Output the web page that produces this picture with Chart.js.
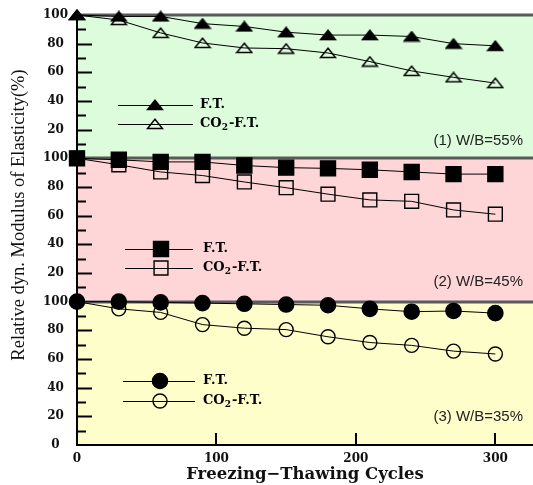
<!DOCTYPE html>
<html>
<head>
<meta charset="utf-8">
<script src="https://cdn.jsdelivr.net/npm/chart.js@4/dist/chart.umd.min.js"></script>
<style>
  html, body { margin: 0; padding: 0; background: #fff; }
  #c { display: block; }
</style>
</head>
<body>
<canvas id="c" width="533" height="485"></canvas>
<script>
// Relative dynamic modulus vs. freeze-thaw cycles, three W/B panels stacked
// on one 0..300 axis (panel 3 = 0..100, panel 2 = 100..200, panel 1 = 200..300).

const cycles = [0, 30, 60, 90, 120, 150, 180, 210, 240, 270, 300];

// (1) W/B = 55%
const ftWb55 = [100, 99, 99, 94, 92, 88, 86, 86, 85, 80, 78.5];
const co2Wb55 = [100, 96.5, 87.5, 80.5, 77, 76.5, 73.5, 67.5, 61, 56.5, 52.5];
// (2) W/B = 45%
const ftWb45 = [100, 99, 97.5, 97.5, 95, 93.5, 93, 92, 90.5, 89, 89];
const co2Wb45 = [100, 95.5, 90.5, 88, 83.5, 79.5, 75, 71, 70, 64, 61];
// (3) W/B = 35%
const ftWb35 = [100, 100, 99.5, 99, 98.5, 98, 97.5, 95, 93, 93.5, 92];
const co2Wb35 = [100, 95, 92.5, 84, 81.5, 80.5, 75.5, 71.5, 69.5, 65.5, 63.5];

const panelNames = ["(1) W/B=55%", "(2) W/B=45%", "(3) W/B=35%"];
const panelOffsets = [200, 100, 0];
const seriesNames = ["F.T.", "CO2-F.T."];

const xTickValues = [0, 100, 200, 300];
const xTickLabels = ["0", "100", "200", "300"];
const yTickValues = [0, 20, 40, 60, 80, 100, 120, 140, 160, 180, 200, 220, 240, 260, 280, 300];
const yTickLabels = ["0", "20", "40", "60", "80", "100", "20", "40", "60", "80", "100", "20", "40", "60", "80", "100"];

const PANEL_BG = ["#dcfcdc", "#ffd6d7", "#fefecb"];
const SEP_COLOR = "#5a5a5a";
const TICK_FONT = { family: "'DejaVu Serif', serif", size: 12, weight: "bold" };

// squat triangles, as in the figure
function triangleMarker(filled) {
  const c = document.createElement("canvas");
  c.width = 18; c.height = 12;
  const g = c.getContext("2d");
  g.beginPath();
  g.moveTo(1.5, 10.5); g.lineTo(9, 1.2); g.lineTo(16.5, 10.5); g.closePath();
  g.lineWidth = 1.4;
  g.strokeStyle = "#000";
  if (filled) { g.fillStyle = "#000"; g.fill(); }
  g.stroke();
  return c;
}
const triFilled = triangleMarker(true);
const triOpen = triangleMarker(false);

const seriesStyles = [
  [{ pointStyle: triFilled }, { pointStyle: triOpen }],
  [{ pointStyle: "rect", radius: 10.6, fill: "#000" }, { pointStyle: "rect", radius: 9.8, fill: "rgba(0,0,0,0)" }],
  [{ pointStyle: "circle", radius: 7.6, fill: "#000" }, { pointStyle: "circle", radius: 7, fill: "rgba(0,0,0,0)" }],
];
const panelSeries = [[ftWb55, co2Wb55], [ftWb45, co2Wb45], [ftWb35, co2Wb35]];

const datasets = [];
panelSeries.forEach((pair, p) => {
  pair.forEach((vals, s) => {
    const st = seriesStyles[p][s];
    datasets.push({
      label: seriesNames[s] + " " + panelNames[p],
      data: vals.map((v, i) => ({ x: cycles[i], y: v + panelOffsets[p] })),
      borderColor: "#000",
      borderWidth: 1,
      pointStyle: st.pointStyle,
      pointRadius: st.radius || 8,
      pointHoverRadius: st.radius || 8,
      pointBackgroundColor: st.fill || "#000",
      pointBorderColor: "#000",
      pointBorderWidth: 1.4,
      tension: 0,
      clip: false,
    });
  });
});

// in-panel legend layout (pixels)
const legendRows = [
  { y: [105, 124], x1: 118, x2: 193, mx: 155, tx: 200 },
  { y: [249, 268], x1: 125, x2: 193, mx: 161, tx: 203 },
  { y: [381, 401], x1: 123, x2: 195, mx: 160, tx: 203 },
];
const panelLabelPos = [{ x: 523, y: 141 }, { x: 523, y: 282 }, { x: 523, y: 417 }];

function drawMarker(ctx, st, x, y) {
  if (typeof st.pointStyle !== "string") {
    ctx.drawImage(st.pointStyle, x - st.pointStyle.width / 2, y - st.pointStyle.height / 2);
    return;
  }
  ctx.save();
  ctx.fillStyle = st.fill;
  ctx.strokeStyle = "#000";
  ctx.lineWidth = 1.4;
  Chart.helpers.drawPoint(ctx, { pointStyle: st.pointStyle, radius: st.radius, rotation: 0, borderWidth: 1.4 }, x, y);
  ctx.restore();
}

const panelsPlugin = {
  id: "panels",
  beforeDraw(chart) {
    const { ctx, chartArea: a, scales: { y } } = chart;
    ctx.save();
    panelOffsets.forEach((off, p) => {
      const top = y.getPixelForValue(off + 100);
      const bot = y.getPixelForValue(off);
      ctx.fillStyle = PANEL_BG[p];
      ctx.fillRect(a.left, top, a.right - a.left, bot - top);
    });
    ctx.restore();
  },
  beforeDatasetsDraw(chart) {
    const { ctx, chartArea: a, scales: { x, y } } = chart;
    ctx.save();
    // inward tick marks on y (major every 20, minor every 10)
    ctx.strokeStyle = "#000";
    ctx.lineWidth = 2;
    for (let v = 10; v < 300; v += 10) {
      if (v % 100 === 0) continue;
      const py = Math.round(y.getPixelForValue(v)) + 0.5;
      const len = v % 20 === 0 ? 15 : 9;
      ctx.beginPath(); ctx.moveTo(a.left, py); ctx.lineTo(a.left + len, py); ctx.stroke();
    }
    // inward tick marks on x
    xTickValues.slice(1).forEach((v) => {
      const px = Math.round(x.getPixelForValue(v));
      ctx.beginPath(); ctx.moveTo(px, a.bottom); ctx.lineTo(px, a.bottom - 12); ctx.stroke();
    });
    // panel separators and top border
    ctx.strokeStyle = SEP_COLOR;
    ctx.lineWidth = 3;
    [100, 200, 300].forEach((v) => {
      const py = Math.round(y.getPixelForValue(v));
      ctx.beginPath(); ctx.moveTo(a.left, py); ctx.lineTo(a.right, py); ctx.stroke();
    });
    ctx.restore();
  },
  afterDraw(chart) {
    const { ctx } = chart;
    ctx.save();
    // legends
    legendRows.forEach((L, p) => {
      seriesNames.forEach((name, s) => {
        const ly = L.y[s];
        ctx.strokeStyle = "#000";
        ctx.lineWidth = 1;
        ctx.beginPath(); ctx.moveTo(L.x1, ly + 0.5); ctx.lineTo(L.x2, ly + 0.5); ctx.stroke();
        drawMarker(ctx, seriesStyles[p][s], L.mx, ly);
        ctx.fillStyle = "#000";
        ctx.textBaseline = "middle";
        ctx.textAlign = "left";
        ctx.font = "bold 13px 'DejaVu Serif', serif";
        if (name.startsWith("CO2")) {
          ctx.fillText("CO", L.tx, ly);
          let w = ctx.measureText("CO").width;
          ctx.font = "bold 9px 'DejaVu Serif', serif";
          ctx.fillText("2", L.tx + w, ly + 4);
          w += ctx.measureText("2").width + 1;
          ctx.font = "bold 13px 'DejaVu Serif', serif";
          ctx.fillText("-F.T.", L.tx + w, ly);
        } else {
          ctx.fillText(name, L.tx, ly);
        }
      });
    });
    // panel labels
    ctx.font = "15px 'Liberation Sans', Arial, sans-serif";
    ctx.fillStyle = "#222";
    ctx.textAlign = "right";
    ctx.textBaseline = "middle";
    panelNames.forEach((t, p) => ctx.fillText(t, panelLabelPos[p].x, panelLabelPos[p].y));
    // y axis title
    ctx.translate(19, 215);
    ctx.rotate(-Math.PI / 2);
    ctx.font = "18.5px 'Liberation Serif', 'Times New Roman', serif";
    ctx.fillStyle = "#111";
    ctx.textAlign = "center";
    ctx.textBaseline = "middle";
    ctx.fillText("Relative dyn. Modulus of Elasticity(%)", 0, 0);
    ctx.restore();
  },
};

new Chart(document.getElementById("c"), {
  type: "line",
  data: { datasets },
  options: {
    responsive: false,
    animation: false,
    devicePixelRatio: 1,
    layout: { autoPadding: false, padding: { left: 0, right: 0, top: 15, bottom: 0 } },
    plugins: { legend: { display: false }, tooltip: { enabled: false } },
    scales: {
      x: {
        type: "linear",
        min: 0,
        max: 327,
        afterBuildTicks: (s) => { s.ticks = xTickValues.map((v) => ({ value: v })); },
        afterFit: (s) => { s.height = 40; s.paddingRight = 0; s.paddingLeft = 0; },
        grid: { display: false, drawTicks: false },
        border: { display: true, color: "#000", width: 2 },
        ticks: {
          padding: 7,
          color: "#111",
          font: TICK_FONT,
          maxRotation: 0,
          callback: (v) => xTickLabels[xTickValues.indexOf(v)],
        },
        title: {
          display: true,
          text: "Freezing\u2212Thawing Cycles",
          color: "#111",
          font: { family: "'DejaVu Serif', serif", size: 16.5, weight: "bold" },
          padding: { top: 0, bottom: 0 },
        },
      },
      y: {
        type: "linear",
        min: 0,
        max: 300,
        afterBuildTicks: (s) => { s.ticks = yTickValues.map((v) => ({ value: v })); },
        afterFit: (s) => { s.width = 77; s.paddingTop = 0; s.paddingBottom = 0; },
        grid: { display: false, drawTicks: false },
        border: { display: true, color: "#000", width: 2 },
        ticks: {
          padding: 9,
          crossAlign: "center",
          color: "#111",
          font: TICK_FONT,
          callback: (v) => yTickLabels[yTickValues.indexOf(v)],
        },
      },
    },
  },
  plugins: [panelsPlugin],
});
</script>
</body>
</html>
